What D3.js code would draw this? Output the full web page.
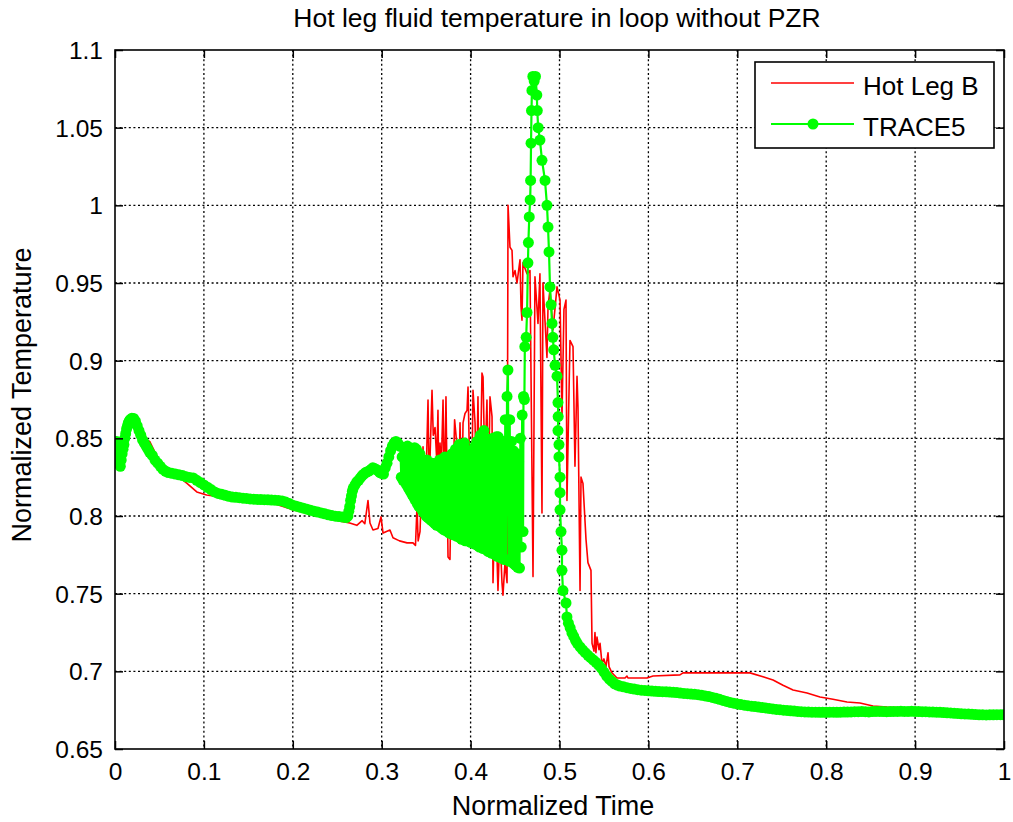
<!DOCTYPE html>
<html>
<head>
<meta charset="utf-8">
<script src="https://cdn.jsdelivr.net/npm/d3@7"></script>
<style>
html,body{margin:0;padding:0;background:#fff;}
svg{display:block;}
text{font-family:"Liberation Sans",Arial,Helvetica,sans-serif;fill:#000;}
</style>
</head>
<body>
<svg id="chart" width="1013" height="822"></svg>
<script>
// ---- Data ----
const titleText = "Hot leg fluid temperature in loop without PZR";
const xLabelText = "Normalized Time";
const yLabelText = "Normalized Temperature";
const seriesNames = ["Hot Leg B", "TRACE5"];

const xTicks = [0, 0.1, 0.2, 0.3, 0.4, 0.5, 0.6, 0.7, 0.8, 0.9, 1];
const xTickLabels = ["0", "0.1", "0.2", "0.3", "0.4", "0.5", "0.6", "0.7", "0.8", "0.9", "1"];
const yTicks = [0.65, 0.7, 0.75, 0.8, 0.85, 0.9, 0.95, 1, 1.05, 1.1];
const yTickLabels = ["0.65", "0.7", "0.75", "0.8", "0.85", "0.9", "0.95", "1", "1.05", "1.1"];

// Hot Leg B (red)
const hotLegT = [
0.000,0.003,0.006,0.009,0.012,0.015,0.018,0.022,0.026,0.030,0.035,0.039,0.045,0.052,0.060,0.070,0.081,0.092,0.103,0.115,
0.130,0.150,0.165,0.178,0.190,0.200,0.215,0.230,0.245,0.255,0.264,0.272,0.278,0.281,0.2846,0.2868,0.2902,0.2958,0.2992,0.3015,
0.3093,0.3127,0.320,0.3285,0.3352,0.3380,0.3397,0.3410,0.3431,0.3465,0.3480,0.3500,0.3521,0.3535,0.3545,0.3566,0.3580,0.3600,0.3620,0.3633,
0.3645,0.3656,0.3670,0.3690,0.3705,0.3723,0.3746,0.3768,0.3785,0.3802,0.3820,0.3847,0.3865,0.3881,0.3900,0.3915,0.3937,0.3960,0.3971,0.3990,
0.4010,0.4027,0.4050,0.4065,0.4083,0.4100,0.4128,0.4140,0.4160,0.4184,0.4200,0.4218,0.4241,0.4252,0.4270,0.4297,0.4308,0.4330,0.4353,0.4364,
0.4387,0.4410,0.4421,0.4443,0.4466,0.4477,0.4500,0.4522,0.4556,0.4567,0.4578,0.4589,0.4634,0.4668,0.4702,0.4724,0.4758,0.4780,0.4803,0.4814,
0.4859,0.4871,0.4893,0.4927,0.4972,0.5006,0.5028,0.5050,0.5073,0.5084,0.5118,0.5152,0.5174,0.5197,0.5208,0.5231,0.5242,0.5264,0.5298,0.5320,
0.5354,0.5366,0.5388,0.5399,0.5410,0.5422,0.5444,0.5456,0.5478,0.5500,0.5523,0.5546,0.5557,0.5590,0.5647,0.5737,0.5759,0.5770,0.5984,0.6018,
0.6052,0.6355,0.6389,0.6997,0.7143,0.7289,0.7402,0.7514,0.7627,0.7784,0.7930,0.8076,0.8234,0.8380,0.8526,0.8684,0.9055,0.9505,1.000
];
const hotLegV = [
0.842,0.836,0.840,0.845,0.852,0.858,0.862,0.862,0.857,0.852,0.849,0.848,0.841,0.834,0.829,0.826,0.821,0.8155,0.8135,0.8125,
0.812,0.8105,0.8095,0.808,0.806,0.804,0.802,0.800,0.798,0.7965,0.7955,0.794,0.797,0.795,0.810,0.7955,0.791,0.792,0.7994,0.789,
0.791,0.786,0.784,0.7827,0.7827,0.781,0.806,0.784,0.790,0.8445,0.800,0.826,0.8747,0.815,0.840,0.881,0.852,0.857,0.835,0.868,
0.805,0.847,0.830,0.8747,0.812,0.8767,0.7736,0.772,0.835,0.815,0.862,0.845,0.808,0.860,0.806,0.860,0.866,0.868,0.883,0.830,
0.800,0.881,0.860,0.815,0.8767,0.795,0.892,0.8895,0.830,0.8747,0.810,0.8767,0.864,0.757,0.800,0.7736,0.752,0.790,0.757,0.749,
0.770,0.757,1.000,0.973,0.971,0.954,0.958,0.950,0.965,0.935,0.926,0.963,0.956,0.958,0.761,0.954,0.924,0.956,0.802,0.950,
0.902,0.935,0.9456,0.920,0.9475,0.939,0.864,0.933,0.939,0.810,0.913,0.909,0.832,0.890,0.870,0.752,0.825,0.821,0.785,0.770,
0.765,0.718,0.713,0.725,0.712,0.722,0.714,0.718,0.705,0.708,0.703,0.712,0.703,0.699,0.6957,0.6957,0.697,0.6957,0.6957,0.6964,
0.697,0.6977,0.699,0.699,0.699,0.6965,0.6944,0.691,0.688,0.686,0.6835,0.682,0.6803,0.6796,0.6777,0.677,0.676,0.674,0.673
];

// TRACE5 (green with markers)
const trace5T = [
0.000,0.001,0.002,0.003,0.004,0.005,0.006,0.007,0.008,0.009,0.010,0.011,0.012,0.013,0.014,0.015,0.016,0.017,0.019,0.021,
0.023,0.025,0.027,0.029,0.031,0.033,0.035,0.037,0.039,0.042,0.045,0.048,0.051,0.054,0.057,0.060,0.064,0.068,0.072,0.076,
0.080,0.084,0.088,0.092,0.096,0.100,0.104,0.108,0.112,0.116,0.120,0.124,0.128,0.132,0.136,0.140,0.144,0.148,0.152,0.156,
0.160,0.164,0.168,0.172,0.176,0.180,0.184,0.188,0.192,0.196,0.200,0.204,0.208,0.212,0.216,0.220,0.224,0.228,0.232,0.236,
0.240,0.244,0.248,0.252,0.256,0.260,0.262,0.263,0.264,0.265,0.266,0.267,0.268,0.270,0.272,0.274,0.276,0.278,0.280,0.282,
0.284,0.286,0.288,0.290,0.292,0.294,0.296,0.298,0.300,0.302,0.304,0.306,0.308,0.310,0.312,0.314,0.316,0.318,0.320,
0.321,0.322,0.323,0.324,0.325,0.326,0.327,0.328,0.329,0.330,
0.331,0.332,0.333,0.334,0.335,0.336,0.337,0.338,0.339,0.340,
0.341,0.342,0.343,0.344,0.345,0.346,0.347,0.348,0.349,0.350,
0.351,0.352,0.353,0.354,0.355,0.356,0.357,0.358,0.359,0.360,
0.361,0.362,0.363,0.364,0.365,0.366,0.367,0.368,0.369,0.370,
0.371,0.372,0.373,0.374,0.375,0.376,0.377,0.378,0.379,0.380,
0.381,0.382,0.383,0.384,0.385,0.386,0.387,0.388,0.389,0.390,
0.391,0.392,0.393,0.394,0.395,0.396,0.397,0.398,0.399,0.400,
0.401,0.402,0.403,0.404,0.405,0.406,0.407,0.408,0.409,0.410,
0.411,0.412,0.413,0.414,0.415,0.416,0.417,0.418,0.419,0.420,
0.421,0.422,0.423,0.424,0.425,0.426,0.427,0.428,0.429,0.430,
0.431,0.432,0.433,0.434,0.435,0.436,0.437,0.438,0.439,0.440,
0.441,0.442,0.443,0.444,0.445,0.446,0.447,0.448,0.449,0.450,
0.451,0.452,0.453,0.454,0.455,0.456,0.457,0.458,0.459,0.4595,
0.4605,0.461,0.4625,0.4635,0.4645,0.465,0.466,0.467,0.4675,0.468,0.4685,0.469,0.470,0.4715,0.473,0.4745,0.475,0.476,0.478,0.4803,
0.4837,0.4859,0.4871,0.4882,0.4893,0.4905,0.4916,0.4925,0.4935,0.4950,0.4972,0.4983,0.4985,0.4983,0.4994,0.4994,0.5006,0.5006,0.5006,0.5017,
0.5028,0.5028,0.5039,0.5073,0.5084,0.510,0.512,0.514,0.516,0.518,0.520,0.5231,0.526,0.529,0.532,0.535,0.538,0.541,0.544,0.547,
0.550,0.553,0.556,0.559,0.562,0.565,0.568,0.572,0.576,0.580,0.584,0.588,0.592,0.596,0.600,0.604,0.608,0.612,0.616,0.620,
0.624,0.628,0.632,0.636,0.640,0.644,0.648,0.652,0.656,0.660,0.664,0.668,0.672,0.676,0.680,0.684,0.688,0.692,0.696,0.700,
0.704,0.708,0.712,0.716,0.720,0.724,0.728,0.732,0.736,0.740,0.744,0.748,0.752,0.756,0.760,0.764,0.768,0.772,0.776,0.780,
0.784,0.788,0.792,0.796,0.800,0.804,0.808,0.812,0.816,0.820,0.824,0.828,0.832,0.836,0.840,0.844,0.848,0.852,0.856,0.860,
0.864,0.868,0.872,0.876,0.880,0.884,0.888,0.892,0.896,0.900,0.904,0.908,0.912,0.916,0.920,0.924,0.928,0.932,0.936,0.940,
0.944,0.948,0.952,0.956,0.960,0.964,0.968,0.972,0.976,0.980,0.984,0.988,0.992,0.996,1.000
];
const trace5V = [
0.845,0.836,0.848,0.834,0.846,0.838,0.832,0.836,0.840,0.843,0.846,0.850,0.853,0.856,0.858,0.860,0.861,0.862,0.863,0.8628,
0.861,0.858,0.855,0.852,0.849,0.847,0.845,0.843,0.841,0.839,0.836,0.834,0.832,0.830,0.8288,0.828,0.8275,0.827,0.8265,0.826,
0.8252,0.8248,0.8245,0.823,0.8215,0.820,0.8185,0.817,0.8155,0.8145,0.814,0.8133,0.8127,0.8122,0.812,0.8118,0.8115,0.8113,0.811,0.8108,
0.8107,0.8106,0.8105,0.8104,0.8103,0.8102,0.810,0.8097,0.809,0.808,0.807,0.8063,0.8057,0.805,0.8044,0.8037,0.8031,0.8025,0.802,0.8014,
0.8008,0.8003,0.7999,0.7996,0.7993,0.799,0.800,0.803,0.806,0.810,0.813,0.816,0.818,0.820,0.822,0.823,0.8245,0.826,0.827,0.828,
0.8285,0.829,0.830,0.831,0.8305,0.830,0.829,0.828,0.8275,0.827,0.831,0.834,0.838,0.842,0.845,0.847,0.848,0.847,0.845,
0.845,0.825,0.838,0.823,0.844,0.822,0.841,0.820,0.845,0.818,
0.835,0.816,0.842,0.814,0.839,0.812,0.844,0.810,0.843,0.808,
0.836,0.806,0.840,0.805,0.835,0.803,0.832,0.802,0.834,0.800,
0.836,0.799,0.833,0.798,0.830,0.797,0.834,0.796,0.832,0.795,
0.834,0.794,0.828,0.794,0.836,0.793,0.833,0.792,0.835,0.791,
0.838,0.791,0.831,0.790,0.836,0.789,0.834,0.789,0.840,0.788,
0.840,0.788,0.843,0.787,0.838,0.787,0.846,0.786,0.844,0.785,
0.846,0.785,0.847,0.784,0.840,0.784,0.836,0.784,0.842,0.783,
0.842,0.783,0.839,0.782,0.845,0.782,0.848,0.781,0.846,0.780,
0.852,0.780,0.844,0.779,0.855,0.779,0.850,0.778,0.848,0.777,
0.846,0.777,0.849,0.776,0.850,0.776,0.844,0.775,0.851,0.774,
0.851,0.774,0.846,0.773,0.840,0.773,0.848,0.772,0.862,0.772,
0.877,0.894,0.771,0.862,0.771,0.848,0.770,0.842,0.769,0.840,
0.768,0.840,0.767,0.835,0.7665,0.850,0.780,0.865,0.790,0.877,
0.875,0.909,0.915,0.931,0.963,0.976,0.9925,1.0035,1.016,1.040,1.061,1.074,1.083,1.080,1.083,1.071,1.061,1.050,1.042,1.029,
1.016,1.000,0.986,0.970,0.9475,0.936,0.924,0.915,0.907,0.897,0.890,0.873,0.864,0.855,0.846,0.838,0.825,0.815,0.804,0.790,
0.778,0.765,0.752,0.744,0.735,0.731,0.728,0.7247,0.7225,0.720,0.718,0.7157,0.7138,0.712,0.7103,0.7088,0.7073,0.7058,0.704,0.702,
0.6995,0.697,0.695,0.6935,0.692,0.6912,0.6905,0.690,0.6895,0.689,0.6886,0.6882,0.6879,0.6877,0.6875,0.6873,0.6871,0.687,0.6869,0.6868,
0.6867,0.6865,0.6863,0.686,0.6858,0.6856,0.6854,0.6852,0.685,0.6846,0.6842,0.6838,0.6832,0.6826,0.682,0.6813,0.6806,0.680,0.6795,0.679,
0.6786,0.6782,0.6779,0.6776,0.6773,0.677,0.6767,0.6764,0.6761,0.6758,0.6755,0.6753,0.675,0.6748,0.6746,0.6744,0.6742,0.674,0.6739,0.6738,
0.6737,0.6737,0.6736,0.6736,0.6736,0.6737,0.6737,0.6736,0.6737,0.6738,0.6738,0.6739,0.674,0.674,0.6741,0.674,0.6739,0.6741,0.6742,0.6742,
0.6741,0.674,0.6741,0.6742,0.6742,0.6743,0.6742,0.6742,0.6743,0.6742,0.6741,0.674,0.674,0.6739,0.6738,0.6737,0.6736,0.6735,0.6733,0.6732,
0.673,0.6729,0.6727,0.6726,0.6725,0.6723,0.6722,0.672,0.672,0.6719,0.672,0.672,0.6721,0.6721,0.672
];

// ---- Drawing ----
const svg = d3.select("#chart");
const plot = {left: 115, top: 50, right: 1004, bottom: 749};
const W = plot.right - plot.left, H = plot.bottom - plot.top;
const font = '"Liberation Sans",Arial,Helvetica,sans-serif';

const x = d3.scaleLinear().domain([0, 1]).range([plot.left, plot.right]);
const y = d3.scaleLinear().domain([0.65, 1.1]).range([plot.bottom, plot.top]);

svg.append("rect").attr("width", 1013).attr("height", 822).attr("fill", "#fff");

// grid
const grid = svg.append("g");
grid.selectAll("line.gx").data(xTicks.slice(1, -1)).enter().append("line")
  .attr("x1", d => x(d)).attr("x2", d => x(d)).attr("y1", plot.top).attr("y2", plot.bottom)
  .attr("stroke", "#000").attr("stroke-width", 1.3).attr("stroke-dasharray", "2,2.6");
grid.selectAll("line.gy").data(yTicks.slice(1, -1)).enter().append("line")
  .attr("y1", d => y(d)).attr("y2", d => y(d)).attr("x1", plot.left).attr("x2", plot.right)
  .attr("stroke", "#000").attr("stroke-width", 1.3).attr("stroke-dasharray", "2,2.6");

svg.append("clipPath").attr("id", "clip").append("rect")
  .attr("x", plot.left).attr("y", plot.top).attr("width", W).attr("height", H);

const hotData = hotLegT.map((t, i) => [t, hotLegV[i]]);
const trData = trace5T.map((t, i) => [t, trace5V[i]]);
const line = d3.line().x(d => x(d[0])).y(d => y(d[1]));

const dataG = svg.append("g").attr("clip-path", "url(#clip)");
dataG.append("path").datum(hotData).attr("d", line)
  .attr("fill", "none").attr("stroke", "#ff0000").attr("stroke-width", 1.6).attr("stroke-linejoin", "round");
dataG.append("path").datum(trData).attr("d", line)
  .attr("fill", "none").attr("stroke", "#00ff00").attr("stroke-width", 2.2).attr("stroke-linejoin", "round");
dataG.selectAll("circle").data(trData).enter().append("circle")
  .attr("cx", d => x(d[0])).attr("cy", d => y(d[1])).attr("r", 5.5).attr("fill", "#00ff00");

// axes (ticks inward on all four sides)
const tl = 8;
const axB = svg.append("g").attr("transform", `translate(0,${plot.bottom})`)
  .call(d3.axisBottom(x).tickValues(xTicks).tickSize(-tl).tickPadding(14)
    .tickFormat((d, i) => xTickLabels[i]));
const axT = svg.append("g").attr("transform", `translate(0,${plot.top})`)
  .call(d3.axisTop(x).tickValues(xTicks).tickSize(-tl).tickFormat(""));
const axL = svg.append("g").attr("transform", `translate(${plot.left},0)`)
  .call(d3.axisLeft(y).tickValues(yTicks).tickSize(-tl).tickPadding(12)
    .tickFormat((d, i) => yTickLabels[i]));
const axR = svg.append("g").attr("transform", `translate(${plot.right},0)`)
  .call(d3.axisRight(y).tickValues(yTicks).tickSize(-tl).tickFormat(""));
[axB, axT, axL, axR].forEach(g => {
  g.select(".domain").remove();
  g.selectAll(".tick line").attr("stroke", "#000").attr("stroke-width", 1.5);
  g.selectAll(".tick text").attr("font-family", font).attr("font-size", 24.5).attr("fill", "#000");
});
axB.selectAll(".tick text").attr("dy", "0.71em");
axL.selectAll(".tick text").attr("dy", "0.35em");

svg.append("rect").attr("x", plot.left).attr("y", plot.top).attr("width", W).attr("height", H)
  .attr("fill", "none").attr("stroke", "#000").attr("stroke-width", 1.6);

// title and labels
svg.append("text").attr("x", 557).attr("y", 27)
  .attr("text-anchor", "middle").attr("font-size", 26.5).attr("font-family", font).text(titleText);
svg.append("text").attr("x", 553).attr("y", 815)
  .attr("text-anchor", "middle").attr("font-size", 27).attr("font-family", font).text(xLabelText);
svg.append("text").attr("transform", "translate(31,395) rotate(-90)")
  .attr("text-anchor", "middle").attr("font-size", 27).attr("font-family", font).text(yLabelText);

// legend
const lg = svg.append("g");
lg.append("rect").attr("x", 755).attr("y", 62).attr("width", 239).attr("height", 86)
  .attr("fill", "#fff").attr("stroke", "#000").attr("stroke-width", 1.6);
lg.append("line").attr("x1", 771).attr("x2", 854).attr("y1", 83).attr("y2", 83)
  .attr("stroke", "#ff0000").attr("stroke-width", 1.6);
lg.append("line").attr("x1", 771).attr("x2", 854).attr("y1", 124).attr("y2", 124)
  .attr("stroke", "#00ff00").attr("stroke-width", 2.2);
lg.append("circle").attr("cx", 813).attr("cy", 124).attr("r", 5.5).attr("fill", "#00ff00");
lg.append("text").attr("x", 863).attr("y", 95).attr("font-size", 26).attr("font-family", font).text(seriesNames[0]);
lg.append("text").attr("x", 863).attr("y", 136).attr("font-size", 26).attr("font-family", font).text(seriesNames[1]);
</script>
</body>
</html>
